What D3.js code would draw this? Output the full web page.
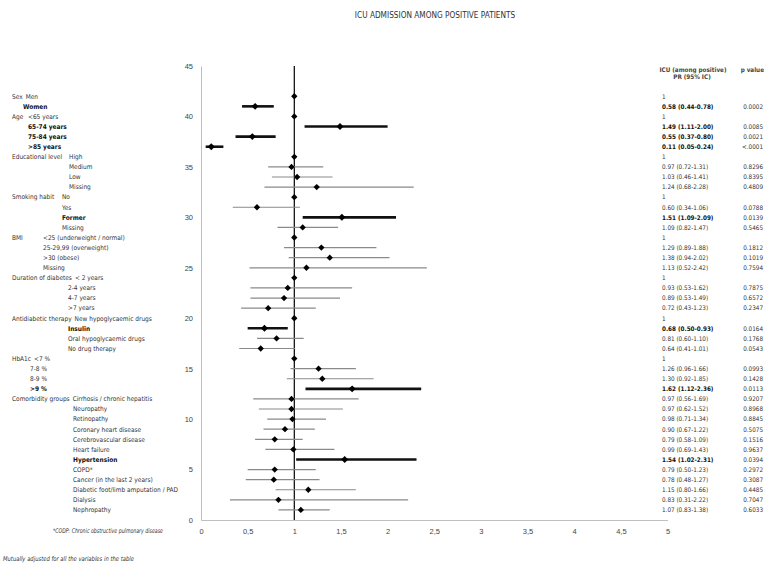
<!DOCTYPE html>
<html>
  <body>
    <script src="https://cdn.jsdelivr.net/npm/d3@7"></script>
    <style>
      body{ margin: 0; background: #fff; }
      svg{ font-family: "Liberation Sans Narrow", "DejaVu Sans Condensed", "Liberation Sans", sans-serif; }
      text{ fill: #333; }
      .b{ font-weight: bold; fill: #111; }
      .axis path{ stroke: #bfbfbf; }
      .axis text{ font-size: 7.5px; fill: #444; }
    </style>
    <script>
// rows from top (y = 42) to bottom (y = 1)
var groups = ['Sex', 'Sex', 'Age', 'Age', 'Age', 'Age',
  'Educational level', 'Educational level', 'Educational level', 'Educational level',
  'Smoking habit', 'Smoking habit', 'Smoking habit', 'Smoking habit',
  'BMI', 'BMI', 'BMI', 'BMI',
  'Duration of diabetes', 'Duration of diabetes', 'Duration of diabetes', 'Duration of diabetes',
  'Antidiabetic therapy', 'Antidiabetic therapy', 'Antidiabetic therapy', 'Antidiabetic therapy',
  'HbA1c', 'HbA1c', 'HbA1c', 'HbA1c',
  'Comorbidity groups', 'Comorbidity groups', 'Comorbidity groups', 'Comorbidity groups',
  'Comorbidity groups', 'Comorbidity groups', 'Comorbidity groups', 'Comorbidity groups',
  'Comorbidity groups', 'Comorbidity groups', 'Comorbidity groups', 'Comorbidity groups']
var labels = ['Men', 'Women', '<65 years', '65-74 years', '75-84 years', '>85 years',
  'High', 'Medium', 'Low', 'Missing',
  'No', 'Yes', 'Former', 'Missing',
  '<25 (underweight / normal)', '25-29,99 (overweight)', '>30 (obese)', 'Missing',
  '< 2 years', '2-4 years', '4-7 years', '>7  years',
  'New hypoglycaemic drugs', 'Insulin', 'Oral hypoglycaemic drugs', 'No drug therapy',
  '<7 %', '7-8 %', '8-9 %', '>9 %',
  'Cirrhosis / chronic hepatitis', 'Neuropathy', 'Retinopathy', 'Coronary heart disease',
  'Cerebrovascular  disease', 'Heart failure', 'Hypertension', 'COPD*',
  'Cancer (in the last 2 years)', 'Diabetic foot/limb amputation / PAD', 'Dialysis', 'Nephropathy']
var est = [1, 0.58, 1, 1.49, 0.55, 0.11,
  1, 0.97, 1.03, 1.24,
  1, 0.60, 1.51, 1.09,
  1, 1.29, 1.38, 1.13,
  1, 0.93, 0.89, 0.72,
  1, 0.68, 0.81, 0.64,
  1, 1.26, 1.30, 1.62,
  0.97, 0.97, 0.98, 0.90, 0.79, 0.99, 1.54, 0.79, 0.78, 1.15, 0.83, 1.07]
var lo = [null, 0.44, null, 1.11, 0.37, 0.05,
  null, 0.72, 0.76, 0.68,
  null, 0.34, 1.09, 0.82,
  null, 0.89, 0.94, 0.52,
  null, 0.53, 0.53, 0.43,
  null, 0.50, 0.60, 0.41,
  null, 0.96, 0.92, 1.12,
  0.56, 0.62, 0.71, 0.67, 0.58, 0.69, 1.02, 0.50, 0.48, 0.80, 0.31, 0.83]
var hi = [null, 0.78, null, 2.00, 0.80, 0.24,
  null, 1.31, 1.41, 2.28,
  null, 1.06, 2.09, 1.47,
  null, 1.88, 2.02, 2.42,
  null, 1.62, 1.49, 1.23,
  null, 0.93, 1.10, 1.01,
  null, 1.66, 1.85, 2.36,
  1.69, 1.52, 1.34, 1.22, 1.09, 1.43, 2.31, 1.23, 1.27, 1.66, 2.22, 1.38]
var prText = ['1', '0.58 (0.44-0.78)', '1', '1.49 (1.11-2.00)', '0.55 (0.37-0.80)', '0.11 (0.05-0.24)',
  '1', '0.97 (0.72-1.31)', '1.03 (0.46-1.41)', '1.24 (0.68-2.28)',
  '1', '0.60 (0.34-1.06)', '1.51 (1.09-2.09)', '1.09 (0.82-1.47)',
  '1', '1.29 (0.89-1.88)', '1.38 (0.94-2.02)', '1.13 (0.52-2.42)',
  '1', '0.93 (0.53-1.62)', '0.89 (0.53-1.49)', '0.72 (0.43-1.23)',
  '1', '0.68 (0.50-0.93)', '0.81 (0.60-1.10)', '0.64 (0.41-1.01)',
  '1', '1.26 (0.96-1.66)', '1.30 (0.92-1.85)', '1.62 (1.12-2.36)',
  '0.97 (0.56-1.69)', '0.97 (0.62-1.52)', '0.98 (0.71-1.34)', '0.90 (0.67-1.22)',
  '0.79 (0.58-1.09)', '0.99 (0.69-1.43)', '1.54 (1.02-2.31)', '0.79 (0.50-1.23)',
  '0.78 (0.48-1.27)', '1.15 (0.80-1.66)', '0.83 (0.31-2.22)', '1.07 (0.83-1.38)']
var pText = ['', '0.0002', '', '0.0085', '0.0021', '<.0001',
  '', '0.8296', '0.8395', '0.4809',
  '', '0.0788', '0.0139', '0.5465',
  '', '0.1812', '0.1019', '0.7594',
  '', '0.7875', '0.6572', '0.2347',
  '', '0.0164', '0.1768', '0.0543',
  '', '0.0993', '0.1428', '0.0113',
  '0.9207', '0.8968', '0.8845', '0.5075', '0.1516', '0.9637', '0.0394', '0.2972',
  '0.3087', '0.4485', '0.7047', '0.6033']
var significant = [false, true, false, true, true, true,
  false, false, false, false,
  false, false, true, false,
  false, false, false, false,
  false, false, false, false,
  false, true, false, false,
  false, false, false, true,
  false, false, false, false, false, false, true, false, false, false, false, false]
var xTicks = [0, 0.5, 1, 1.5, 2, 2.5, 3, 3.5, 4, 4.5, 5]
var yTicks = [0, 5, 10, 15, 20, 25, 30, 35, 40, 45]

// label indents: [first item, other items]; 'inline' = right after group name
var indent = {'Sex': ['inline', 23], 'Age': [28, 28], 'Educational level': [69, 69],
  'Smoking habit': [62, 62], 'BMI': [43, 43], 'Duration of diabetes': ['inline', 68],
  'Antidiabetic therapy': ['inline', 68], 'HbA1c': ['inline', 30], 'Comorbidity groups': ['inline', 73]}

var svg = d3.select('body').append('svg').attr('width', 765).attr('height', 565)
var n = labels.length
var x = d3.scaleLinear().domain([0, 5]).range([201, 667.5])
var y = d3.scaleLinear().domain([0, 45]).range([520, 66])
var rowY = function(i){ return y(n - i) }

svg.append('text').text('ICU ADMISSION AMONG POSITIVE PATIENTS')
  .attr('x', 435).attr('y', 18).attr('text-anchor', 'middle').style('font-size', '8.2px')

svg.append('g').attr('class', 'axis').attr('transform', 'translate(0,520)')
  .call(d3.axisBottom(x).tickValues(xTicks).tickSize(0).tickPadding(9)
    .tickFormat(function(d){ return String(d).replace('.', ',') }))
svg.append('g').attr('class', 'axis').attr('transform', 'translate(201,0)')
  .call(d3.axisLeft(y).tickValues(yTicks).tickSize(0).tickPadding(8))

svg.append('line').attr('x1', x(1)).attr('x2', x(1)).attr('y1', y(45)).attr('y2', y(0))
  .attr('stroke', '#000').attr('stroke-width', 1.2)

var rows = d3.range(n)
svg.selectAll('.ci').data(rows.filter(function(i){ return lo[i] != null }))
  .enter().append('line').attr('class', 'ci')
  .attr('x1', function(i){ return x(lo[i]) }).attr('x2', function(i){ return x(hi[i]) })
  .attr('y1', rowY).attr('y2', rowY)
  .attr('stroke', function(i){ return significant[i] ? '#111' : '#8a8a8a' })
  .attr('stroke-width', function(i){ return significant[i] ? 2.6 : 1.2 })

svg.selectAll('.pt').data(rows).enter().append('path').attr('class', 'pt')
  .attr('d', d3.symbol().type(d3.symbolSquare).size(function(i){ return significant[i] ? 24 : 20 }))
  .attr('transform', function(i){ return 'translate(' + x(est[i]) + ',' + rowY(i) + ') rotate(45)' })
  .attr('fill', '#000')

// left labels
var lab = svg.append('g').style('font-size', '6.5px')
var groupWidth = {}
rows.forEach(function(i){
  var g = groups[i]
  var first = i === 0 || groups[i - 1] !== g
  if(first){
    var t = lab.append('text').text(g).attr('x', 12).attr('y', rowY(i) + 2.3)
    groupWidth[g] = t.node().getComputedTextLength()
  }
  var ix = first ? indent[g][0] : indent[g][1]
  if(ix === 'inline') ix = 12 + groupWidth[g] + 3
  lab.append('text').text(labels[i]).attr('x', ix).attr('y', rowY(i) + 2.3)
    .attr('class', significant[i] ? 'b' : null)
})

// right table
var tab = svg.append('g').style('font-size', '6.3px')
tab.append('text').text('ICU (among positive)').attr('x', 693).attr('y', 72).attr('text-anchor', 'middle')
  .style('font-weight', 'bold').style('fill', '#444')
tab.append('text').text('PR (95% IC)').attr('x', 692).attr('y', 79).attr('text-anchor', 'middle')
  .style('font-weight', 'bold').style('fill', '#444')
tab.append('text').text('p value').attr('x', 764).attr('y', 72).attr('text-anchor', 'end')
  .style('font-weight', 'bold').style('fill', '#444')
rows.forEach(function(i){
  tab.append('text').text(prText[i]).attr('x', 662).attr('y', rowY(i) + 2.3)
    .attr('class', significant[i] ? 'b' : null)
  tab.append('text').text(pText[i]).attr('x', 763).attr('y', rowY(i) + 2.3).attr('text-anchor', 'end')
})

svg.append('text').text('*CODP: Chronic obstructive pulmonary disease')
  .attr('x', 53).attr('y', 533).style('font-size', '6.5px').style('font-style', 'italic')
  .attr('textLength', 110).attr('lengthAdjust', 'spacingAndGlyphs')
svg.append('text').text('Mutually adjusted for all the variables in the table')
  .attr('x', 3).attr('y', 561).style('font-size', '6.5px').style('font-style', 'italic')
  .attr('textLength', 131).attr('lengthAdjust', 'spacingAndGlyphs')
    </script>
  </body>
</html>
